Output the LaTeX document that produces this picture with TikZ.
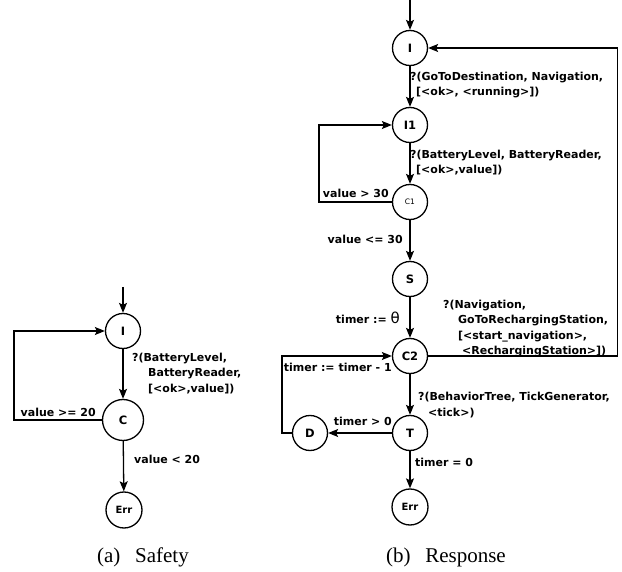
\documentclass[tikz,border=0pt]{standalone}
\usepackage{fontspec}
\setmainfont{DejaVu Sans}
\newfontfamily\capfont{Liberation Serif}
\usetikzlibrary{arrows.meta}
\begin{document}
\begin{tikzpicture}[x=1pt,y=-1pt,
  st/.style={circle,draw,line width=1.3pt,minimum size=35pt,inner sep=0pt,font=\bfseries\fontsize{11.5}{12}\selectfont},
  bigst/.style={st,minimum size=41pt},
  errst/.style={st,minimum size=36pt,font=\bfseries\fontsize{10}{11}\selectfont},
  smallst/.style={st,font=\fontsize{7.5}{8}\selectfont},
  edge/.style={line width=1.3pt,-{Stealth[length=10pt,width=8pt,inset=2pt]}},
  lbl/.style={font=\bfseries\fontsize{11}{12}\selectfont,inner sep=0pt,anchor=base west},
  lble/.style={lbl,anchor=base east},
  captext/.style={font=\capfont\fontsize{21}{24}\selectfont,inner sep=0pt,anchor=base}
]
\useasboundingbox (0,0) rectangle (622,572);
% ---------- (a) Safety ----------
\node[st] (IL) at (123,331) {I};
\node[bigst] (CL) at (123,420) {C};
\node[errst] (EL) at (124,510) {Err};
\coordinate (inL) at (123,287);
\draw[edge] (inL) -- (IL);
\draw[edge] (IL) -- (CL);
\draw[edge] (CL) -- (EL);
\draw[edge] (CL.west) -- ++(-88,0) |- (IL);
\node[lbl] (la1) at (132,362) {?(BatteryLevel,};
\node[lbl] (la2) at (148,377) {BatteryReader,};
\node[lbl] (la3) at (148,392) {[<ok>,value])};
\node[lble] (la4) at (96,417) {value >= 20};
\node[lbl] (la5) at (134,464) {value < 20};
% ---------- (b) Response ----------
\node[st] (I) at (410,48) {I};
\node[st] (I1) at (410,125) {I1};
\node[smallst] (C1) at (410,202) {C1};
\node[st] (S) at (410,279) {S};
\node[st] (C2) at (410,356) {C2};
\node[st] (T) at (410,433) {T};
\node[st] (D) at (310,433) {D};
\node[errst] (E) at (410,507) {Err};
\coordinate (inR) at (410,0);
\draw[edge] (inR) -- (I);
\draw[edge] (I) -- (I1);
\draw[edge] (I1) -- (C1);
\draw[edge] (C1) -- (S);
\draw[edge] (S) -- (C2);
\draw[edge] (C2) -- (T);
\draw[edge] (T) -- (E);
\draw[edge] (T) -- (D);
\draw[edge] (C1.west) -- ++(-73,0) |- (I1);
\draw[edge] (C2.east) -- ++(189,0) |- (I);
\draw[edge] (D.west) -- ++(-10,0) |- (C2);
\node[lbl] (r1) at (410,81) {?(GoToDestination, Navigation,};
\node[lbl] (r2) at (416,96) {[<ok>, <running>])};
\node[lbl] (r3) at (410,159) {?(BatteryLevel, BatteryReader,};
\node[lbl] (r4) at (416,174) {[<ok>,value])};
\node[lble] (r5) at (389,198) {value > 30};
\node[lble] (r6) at (403,244) {value <= 30};
\node[lble] (r7) at (400,324) {timer := {\mdseries\fontsize{15}{15}\selectfont θ}};
\node[lbl] (r8) at (443,309) {?(Navigation,};
\node[lbl] (r9) at (458,324) {GoToRechargingStation,};
\node[lbl] (r10) at (458,340) {[<start\_navigation>,};
\node[lbl] (r11) at (462,355) {<RechargingStation>])};
\node[lble] (r12) at (392,372) {timer := timer - 1};
\node[lbl] (r13) at (418,401) {?(BehaviorTree, TickGenerator,};
\node[lbl] (r14) at (428,417) {<tick>)};
\node[lble] (r15) at (392,426) {timer > 0};
\node[lbl] (r16) at (415,466) {timer = 0};
% captions
\node[captext] (ca) at (143,562) {(a)\hspace{0.7em}Safety};
\node[captext] (cb) at (446,562) {(b)\hspace{0.7em}Response};
\end{tikzpicture}
\end{document}
